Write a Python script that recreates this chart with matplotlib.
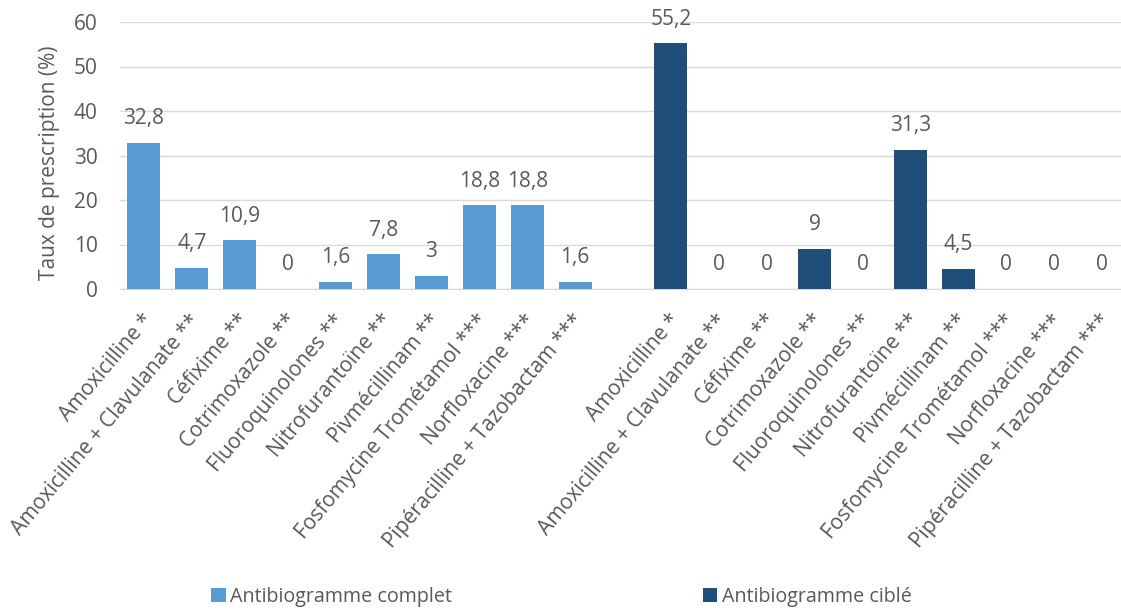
import matplotlib.pyplot as plt
import matplotlib.transforms as mtransforms
import numpy as np

plt.rcParams['font.family'] = ['Open Sans', 'DejaVu Sans']

antibiotiques = ["Amoxicilline *", "Amoxicilline + Clavulanate **", "Céfixime **",
                 "Cotrimoxazole **", "Fluoroquinolones **", "Nitrofurantoïne **",
                 "Pivmécillinam **", "Fosfomycine Trométamol ***", "Norfloxacine ***",
                 "Pipéracilline + Tazobactam ***"]
complet = [32.8, 4.7, 10.9, 0, 1.6, 7.8, 3, 18.8, 18.8, 1.6]
cible = [55.2, 0, 0, 9, 0, 31.3, 4.5, 0, 0, 0]
series_noms = ["Antibiogramme complet", "Antibiogramme ciblé"]

c_complet = "#5B9BD5"
c_cible = "#1F4E79"
gris = "#595959"
fs = 15

fig = plt.figure(figsize=(11.21, 6.11), dpi=100)
ax = fig.add_axes([120 / 1121, 1 - 289 / 611, 1006 / 1121, 267 / 611])

n = len(antibiotiques)
x1 = np.arange(n)
x2 = np.arange(n) + n + 1

b1 = ax.bar(x1, complet, width=0.69, color=c_complet, label=series_noms[0], zorder=3)
b2 = ax.bar(x2, cible, width=0.69, color=c_cible, label=series_noms[1], zorder=3)

def fmt(v):
    return ("%g" % v).replace(".", ",")

for xs, vals in ((x1, complet), (x2, cible)):
    for xx, v in zip(xs, vals):
        ax.annotate(fmt(v), (xx, v), xytext=(0, 13.5), textcoords="offset points",
                    ha="center", va="baseline", fontsize=fs, color=gris)

ax.set_xlim(-0.5, 2 * n + 0.5)
ax.set_ylim(0, 60)
ax.set_yticks(range(0, 61, 10))
ax.yaxis.grid(True, color="#D9D9D9", linewidth=1, zorder=0)
ax.set_axisbelow(True)
for s in ["top", "right", "left"]:
    ax.spines[s].set_visible(False)
ax.spines["bottom"].set_color("#D9D9D9")
ax.tick_params(axis="y", length=0, labelsize=fs, labelcolor=gris, pad=16)
ax.tick_params(axis="x", length=0)

# category labels drawn by hand so the offset sticks
pos = np.concatenate([x1, x2])
ax.set_xticks(pos)
ax.set_xticklabels([])
trans = mtransforms.blended_transform_factory(ax.transData, ax.transAxes)
trans = trans + mtransforms.ScaledTranslation(-0.03, -0.21, fig.dpi_scale_trans)
for xx, lab in zip(pos, antibiotiques + antibiotiques):
    ax.text(xx, 0, lab, transform=trans, rotation=50, ha="right", va="top",
            rotation_mode="anchor", fontsize=fs, color=gris, clip_on=False)

ax.set_ylabel("Taux de prescription (%)", fontsize=fs, color=gris)
ax.yaxis.set_label_coords(-0.06, 0.474)

fig.legend(handles=[b1, b2], loc="center", bbox_to_anchor=(0.501, 1 - 597 / 611),
           ncol=2, frameon=False, fontsize=14.2, labelcolor=gris,
           handlelength=0.72, handleheight=0.72, handletextpad=0.25,
           columnspacing=12.7)

fig.savefig("out.png", dpi=100)
